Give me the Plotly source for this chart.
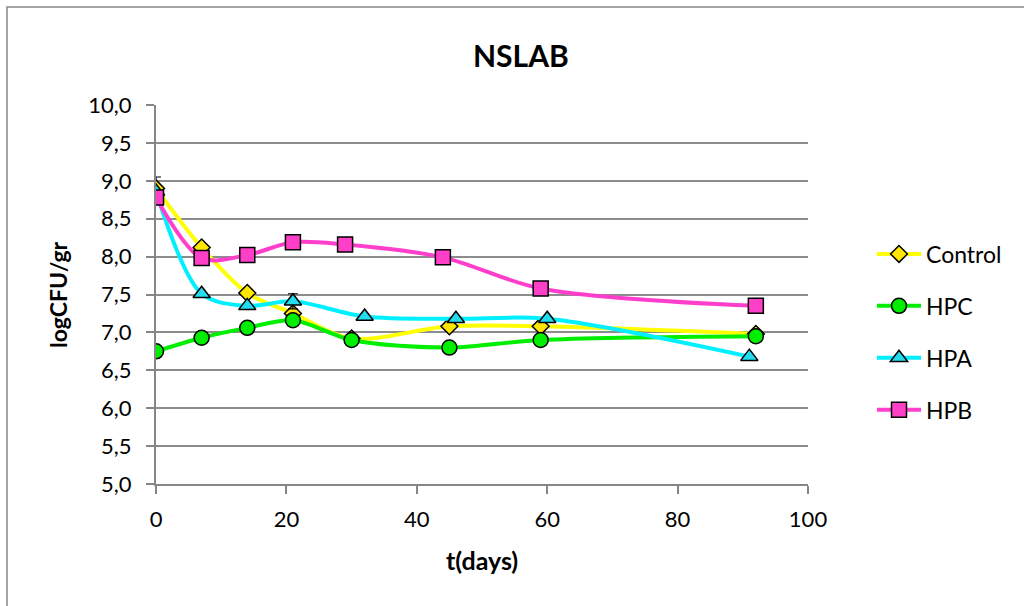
import plotly.graph_objects as go

days_control = [0, 7, 14, 21, 30, 45, 59, 92]
control = [8.90, 8.12, 7.52, 7.25, 6.92, 7.08, 7.08, 6.98]
control_err = [0.15, 0, 0, 0, 0, 0, 0, 0]

days_hpc = [0, 7, 14, 21, 30, 45, 59, 92]
hpc = [6.75, 6.93, 7.06, 7.16, 6.90, 6.80, 6.90, 6.95]
hpc_err = [0, 0, 0.05, 0, 0, 0.06, 0, 0]

days_hpa = [0, 7, 14, 21, 32, 46, 60, 91]
hpa = [8.86, 7.51, 7.35, 7.41, 7.21, 7.18, 7.18, 6.68]
hpa_err = [0, 0, 0, 0.1, 0, 0, 0, 0]

days_hpb = [0, 7, 14, 21, 29, 44, 59, 92]
hpb = [8.78, 7.98, 8.02, 8.19, 8.16, 7.99, 7.58, 7.35]
hpb_err = [0, 0, 0, 0, 0, 0, 0.05, 0]

names = ["Control", "HPC", "HPA", "HPB"]
xs = [days_control, days_hpc, days_hpa, days_hpb]
ys = [control, hpc, hpa, hpb]
errs = [control_err, hpc_err, hpa_err, hpb_err]
line_colors = ["#FFFF00", "#00EE00", "#00F0FF", "#FF3FCC"]
marker_colors = ["#FFE600", "#00EE00", "#22DDEE", "#FF3FC8"]
symbols = ["diamond", "circle", "triangle-up", "square"]
sizes = [13, 15, 15, 15]

FONT = "Lato"

fig = go.Figure()
for name, x, y, e, lc, mc, sym, sz in zip(names, xs, ys, errs, line_colors, marker_colors, symbols, sizes):
    fig.add_trace(go.Scatter(
        x=x, y=y, name=name, mode="lines+markers", legendgroup=name,
        line=dict(color=lc, width=4, shape="spline", smoothing=0.9),
        marker=dict(symbol=sym, size=sz, color=mc, line=dict(color="black", width=1.5)),
        error_y=dict(type="data", array=e, visible=True, color="black", thickness=1.2, width=5),
    ))

L, R, T, B = 156, 808, 105, 484
W, H = 1024, 606
pw, ph = R - L, B - T

def px_x(p):
    return (p - L) / pw

def px_y(p):
    return (B - p) / ph

fig.update_layout(
    width=W, height=H,
    margin=dict(l=L, r=W - R, t=T, b=H - B, pad=0),
    paper_bgcolor="white", plot_bgcolor="white",
    separators=", ",
    font=dict(family=FONT, size=22, color="black"),
    showlegend=True,
    legend=dict(x=px_x(872), y=px_y(332), xanchor="left", yanchor="middle",
                font=dict(family=FONT, size=23), itemwidth=44,
                tracegroupgap=19, bgcolor="rgba(0,0,0,0)"),
    xaxis=dict(range=[0, 100], tickvals=[0, 20, 40, 60, 80, 100], showgrid=False,
               showline=True, linecolor="#868686", linewidth=2,
               ticks="outside", ticklen=8, tickcolor="#868686", tickwidth=2,
               tickfont=dict(family=FONT, size=22), zeroline=False, ticklabelstandoff=7),
    yaxis=dict(range=[5, 10], tickvals=[5, 5.5, 6, 6.5, 7, 7.5, 8, 8.5, 9, 9.5, 10],
               tickformat=".1f", showgrid=True, gridcolor="#8C8C8C", gridwidth=2,
               showline=True, linecolor="#868686", linewidth=2,
               ticks="outside", ticklen=8, tickcolor="#868686", tickwidth=2,
               tickfont=dict(family=FONT, size=22), zeroline=False, ticklabelstandoff=10),
    shapes=[dict(type="rect", xref="paper", yref="paper",
                 x0=px_x(7), x1=px_x(1100), y0=px_y(700), y1=px_y(7),
                 line=dict(color="#868686", width=1.5), fillcolor="rgba(0,0,0,0)", layer="below")],
    annotations=[
        dict(text="<b>NSLAB</b>", xref="paper", yref="paper", x=px_x(521), y=px_y(55),
             showarrow=False, font=dict(family=FONT, size=30), xanchor="center", yanchor="middle"),
        dict(text="<b>t(days)</b>", xref="paper", yref="paper", x=px_x(482), y=px_y(560),
             showarrow=False, font=dict(family=FONT, size=25), xanchor="center", yanchor="middle"),
        dict(text="<b>logCFU/gr</b>", xref="paper", yref="paper", x=px_x(58), y=px_y(295),
             showarrow=False, font=dict(family=FONT, size=23), textangle=-90,
             xanchor="center", yanchor="middle"),
    ],
)

fig.write_html("out.html")
